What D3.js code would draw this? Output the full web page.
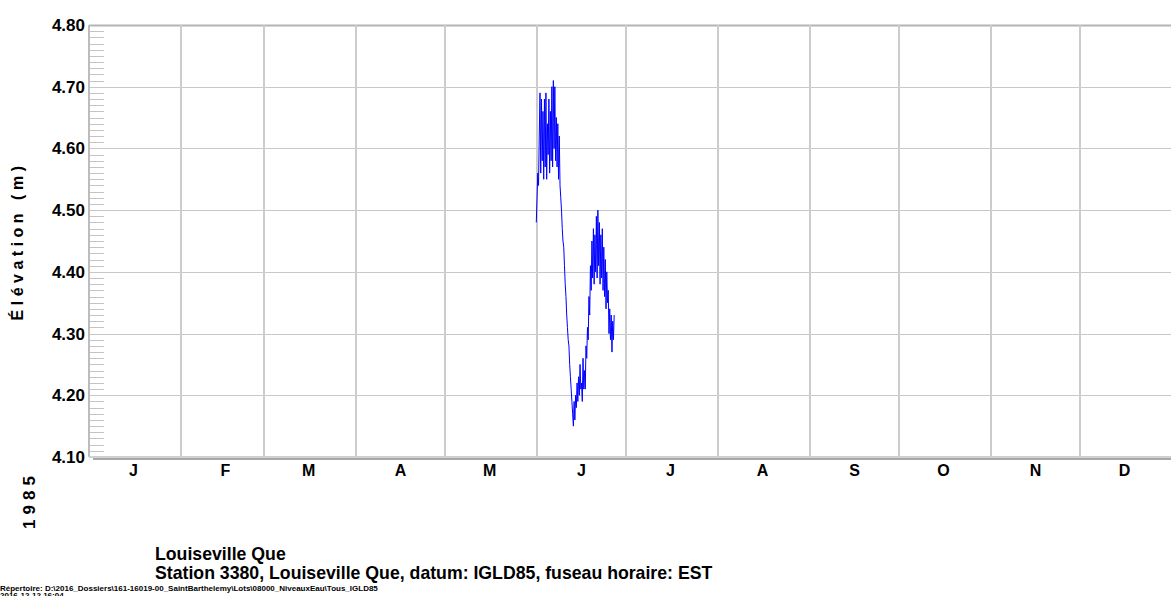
<!DOCTYPE html>
<html>
<head>
<meta charset="utf-8">
<script src="https://cdn.jsdelivr.net/npm/d3@7"></script>
<style>
  body { margin: 0; background: #fff; }
  text { font-family: "Liberation Sans", Arial, sans-serif; font-weight: bold; fill: #000; }
</style>
</head>
<body>
<div id="chart"></div>
<script>
    // donnees (pas de 6 h a partir du 31 mai 18:00)
    var startTime = new Date(1985, 4, 31, 18);
    var levels = [
      4.48,
      4.52, 4.56, 4.54, 4.62,
      4.69, 4.56, 4.68, 4.58,
      4.66, 4.55, 4.68, 4.57,
      4.69, 4.55, 4.64, 4.59,
      4.68, 4.56, 4.66, 4.58,
      4.70, 4.57, 4.71, 4.60,
      4.70, 4.58, 4.65, 4.57,
      4.64, 4.55, 4.62, 4.54,
      4.52, 4.50, 4.47, 4.45,
      4.44, 4.41, 4.38, 4.36,
      4.33, 4.31, 4.29, 4.28,
      4.25, 4.23, 4.21, 4.19,
      4.17, 4.15, 4.19, 4.16,
      4.20, 4.18, 4.22, 4.19,
      4.23, 4.20, 4.25, 4.21,
      4.22, 4.19, 4.26, 4.21,
      4.24, 4.21, 4.28, 4.26,
      4.31, 4.29, 4.36, 4.33,
      4.41, 4.37, 4.45, 4.39,
      4.47, 4.38, 4.46, 4.40,
      4.49, 4.39, 4.50, 4.41,
      4.48, 4.38, 4.46, 4.39,
      4.47, 4.37, 4.44, 4.36,
      4.42, 4.34, 4.40, 4.35,
      4.37, 4.30, 4.34, 4.29,
      4.33, 4.27, 4.32, 4.29,
      4.33
    ];
    var monthLabels = ["J", "F", "M", "A", "M", "J", "J", "A", "S", "O", "N", "D"];
    var yTicks = [4.10, 4.20, 4.30, 4.40, 4.50, 4.60, 4.70, 4.80];
    var yearLabel = "1985";
    var yTitle = "Élévation (m)";
    var title1 = "Louiseville Que";
    var title2 = "Station 3380, Louiseville Que, datum: IGLD85, fuseau horaire: EST";
    var footer1 = "Répertoire: D:\\2016_Dossiers\\161-16019-00_SaintBarthelemy\\Lots\\08000_NiveauxEau\\Tous_IGLD85";
    var footer2 = "2016-12-12 16:04";

    var data = levels.map(function(v, i) {
      return { date: d3.timeHour.offset(startTime, 6 * i), value: v };
    });

    var W = 1171, H = 596;
    var plotLeft = 89, plotTop = 25, plotBottom = 457;

    var svg = d3.select("#chart").append("svg")
      .attr("width", W).attr("height", H);

    var x = d3.scaleTime()
      .domain([new Date(1985, 0, 1), new Date(1986, 0, 1)])
      .range([plotLeft, 1172]);
    var y = d3.scaleLinear()
      .domain([4.10, 4.80])
      .range([plotBottom, plotTop]);

    // petites graduations
    var minor = d3.range(411, 480).filter(function(k) { return k % 10 != 0; }).map(function(k) { return k / 100; });
    svg.append("g").selectAll("line").data(minor).enter().append("line")
      .attr("x1", plotLeft).attr("x2", plotLeft + 15)
      .attr("y1", function(d) { return Math.round(y(d)) + 0.5; })
      .attr("y2", function(d) { return Math.round(y(d)) + 0.5; })
      .attr("stroke", "#c4c4c4").attr("stroke-width", 1);

    // grille horizontale
    svg.append("g").selectAll("line").data(yTicks).enter().append("line")
      .attr("x1", plotLeft).attr("x2", W)
      .attr("y1", function(d) { return Math.round(y(d)) + 0.5; })
      .attr("y2", function(d) { return Math.round(y(d)) + 0.5; })
      .attr("stroke", function(d) { return d == 4.80 ? "#b4b4b4" : "#c8c8c8"; })
      .attr("stroke-width", function(d) { return d == 4.80 ? 2 : 1; });

    // grille verticale (debut de chaque mois)
    var months = d3.timeMonth.range(new Date(1985, 0, 1), new Date(1986, 0, 1));
    svg.append("g").selectAll("line").data(months.slice(1)).enter().append("line")
      .attr("x1", function(d) { return Math.round(x(d)); })
      .attr("x2", function(d) { return Math.round(x(d)); })
      .attr("y1", plotTop).attr("y2", plotBottom)
      .attr("stroke", "#cccccc").attr("stroke-width", 2);

    // axes
    svg.append("line")
      .attr("x1", plotLeft).attr("x2", plotLeft).attr("y1", plotTop).attr("y2", plotBottom)
      .attr("stroke", "#bcbcbc").attr("stroke-width", 2);
    svg.append("line")
      .attr("x1", plotLeft).attr("x2", W).attr("y1", plotBottom).attr("y2", plotBottom)
      .attr("stroke", "#d0d0d0").attr("stroke-width", 2);
    svg.append("line")
      .attr("x1", plotLeft + 4).attr("x2", W).attr("y1", plotBottom + 2).attr("y2", plotBottom + 2)
      .attr("stroke", "#a8a8a8").attr("stroke-width", 2);

    // etiquettes y
    svg.append("g").selectAll("text").data(yTicks).enter().append("text")
      .attr("x", plotLeft - 4)
      .attr("y", function(d) { return y(d); })
      .attr("dy", "0.35em")
      .attr("text-anchor", "end")
      .style("font-size", "17px")
      .text(function(d) { return d3.format(".2f")(d); });

    // etiquettes des mois
    svg.append("g").selectAll("text").data(months).enter().append("text")
      .attr("x", function(d) { return x(d3.timeDay.offset(d, 15)); })
      .attr("y", 476)
      .attr("text-anchor", "middle")
      .style("font-size", "16px")
      .text(function(d, i) { return monthLabels[i]; });

    // annee
    svg.append("text")
      .attr("transform", "translate(35,500) rotate(-90)")
      .attr("text-anchor", "middle")
      .style("font-size", "17px")
      .style("letter-spacing", "5px")
      .text(yearLabel);

    // titre axe y
    svg.append("text")
      .attr("transform", "translate(23,241) rotate(-90)")
      .attr("text-anchor", "middle")
      .style("font-size", "16px")
      .style("letter-spacing", "4.5px")
      .text(yTitle);

    // ligne de donnees
    svg.append("path")
      .datum(data)
      .attr("fill", "none")
      .attr("stroke", "#0000ff")
      .attr("stroke-width", 1)
      .attr("d", d3.line()
        .x(function(d) { return x(d.date); })
        .y(function(d) { return y(d.value); }));

    // titres
    svg.append("text").attr("x", 155).attr("y", 560)
      .style("font-size", "17.7px").text(title1);
    svg.append("text").attr("x", 155).attr("y", 579)
      .style("font-size", "17.7px").text(title2);
    svg.append("text").attr("x", 0).attr("y", 591)
      .style("font-size", "8px").text(footer1);
    svg.append("text").attr("x", 0).attr("y", 598)
      .style("font-size", "8px").text(footer2);
</script>
</body>
</html>
